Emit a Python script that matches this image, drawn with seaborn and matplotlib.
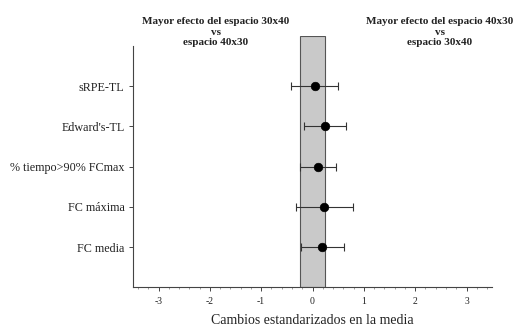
import matplotlib
matplotlib.use("Agg")
import matplotlib.pyplot as plt
import seaborn as sns
import pandas as pd
import numpy as np
from matplotlib.ticker import MultipleLocator

# --- datos ---
variables = ["sRPE-TL", "Edward's-TL", "% tiempo>90% FCmax", "FC máxima", "FC media"]
media = [0.05, 0.24, 0.11, 0.23, 0.19]
li = [-0.41, -0.17, -0.24, -0.33, -0.22]
ls = [0.50, 0.65, 0.46, 0.78, 0.62]
umbral = 0.25  # cambio mínimo relevante

df = pd.DataFrame({"var": variables, "es": media, "lo": li, "hi": ls})

sns.set_theme(style="white")
plt.rcParams["font.family"] = ["Liberation Serif", "DejaVu Serif"]

fig = plt.figure(figsize=(5.17, 3.28), dpi=100)
ax = fig.add_axes([0.257, 0.125, 0.695, 0.765])

# banda gris de cambio trivial
ax.axvspan(-umbral, umbral, facecolor="#c9c9c9", edgecolor="#555555", linewidth=0.8, zorder=0)

ypos = np.arange(len(variables))
ax.errorbar(df["es"], ypos, xerr=[df["es"] - df["lo"], df["hi"] - df["es"]],
            fmt="none", ecolor="#333333", elinewidth=0.8, capsize=3, capthick=0.8, zorder=2)
sns.scatterplot(data=df, x="es", y="var", color="black", s=38, edgecolor="black", ax=ax, zorder=3)

ax.set_xlim(-3.5, 3.5)
ax.set_ylim(4.99, -1.24)
ax.set_xticks([-3, -2, -1, 0, 1, 2, 3])
ax.set_xticklabels(["-3", "-2", "-1", "0", "1", "2", "3"])
ax.xaxis.set_minor_locator(MultipleLocator(0.2))
ax.set_yticks(ypos)
ax.set_yticklabels(variables)

for s in ["top", "right"]:
    ax.spines[s].set_visible(False)
for s in ["left", "bottom"]:
    ax.spines[s].set_color("#444444")
    ax.spines[s].set_linewidth(0.8)
ax.spines["left"].set_bounds(4.99, -1.0)

ax.tick_params(axis="both", which="major", direction="out", length=3, width=0.7,
               color="#444444", labelsize=7, pad=3)
ax.tick_params(axis="y", labelsize=8.7, labelcolor="#222222")
ax.tick_params(axis="x", which="minor", bottom=True, direction="out", length=1.5, width=0.5, color="#777777")
ax.tick_params(axis="x", which="major", bottom=True, labelcolor="#222222", pad=4)
ax.tick_params(axis="y", left=True)

ax.set_xlabel("Cambios estandarizados en la media", fontsize=10, color="#222222", labelpad=6)
ax.set_ylabel("")

fig.text(0.417, 0.902, "Mayor efecto del espacio 30x40\nvs\nespacio 40x30", ha="center", va="center",
         fontsize=8, fontweight="bold", color="#222222", linespacing=1.2)
fig.text(0.851, 0.902, "Mayor efecto del espacio 40x30\nvs\nespacio 30x40", ha="center", va="center",
         fontsize=8, fontweight="bold", color="#222222", linespacing=1.2)

fig.savefig("out.png", dpi=100)
